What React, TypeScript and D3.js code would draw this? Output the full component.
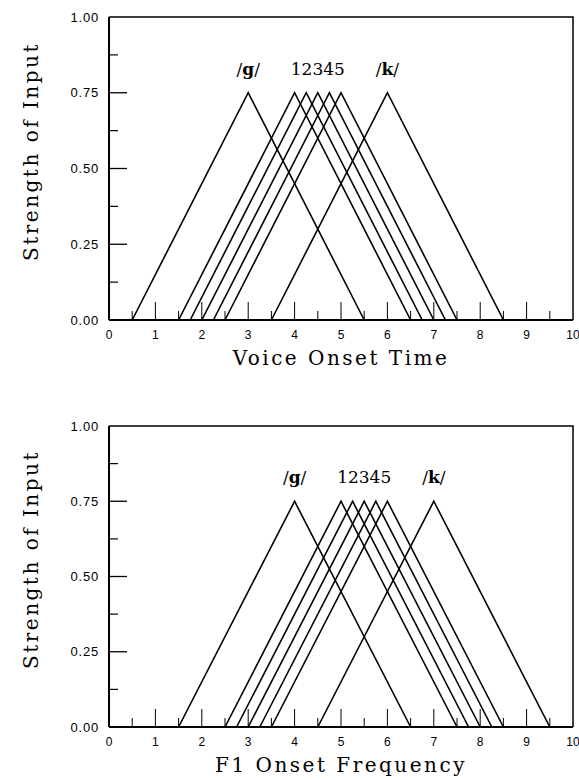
import React from 'react';
import * as d3 from 'd3';

// triangle order: /g/, stimuli 1..5, /k/
const triangleNames = ['/g/', '1', '2', '3', '4', '5', '/k/'];

const votStart = [0.5, 1.5, 1.75, 2.0, 2.25, 2.5, 3.5];
const votPeak = [3.0, 4.0, 4.25, 4.5, 4.75, 5.0, 6.0];
const votEnd = [5.5, 6.5, 6.75, 7.0, 7.25, 7.5, 8.5];

const f1Start = [1.5, 2.5, 2.75, 3.0, 3.25, 3.5, 4.5];
const f1Peak = [4.0, 5.0, 5.25, 5.5, 5.75, 6.0, 7.0];
const f1End = [6.5, 7.5, 7.75, 8.0, 8.25, 8.5, 9.5];

const peakStrength = 0.75;

const labelTexts = ['/g/', '12345', '/k/'];
const votLabelAt = [3.0, 4.5, 6.0];
const f1LabelAt = [4.0, 5.5, 7.0];
const labelStrength = 0.81;

const yTickLabels = ['0.00', '0.25', '0.50', '0.75', '1.00'];
const yTicks = [0, 0.25, 0.5, 0.75, 1];
const xTicks = d3.range(0, 11);

const serif = '"DejaVu Serif", serif';
const sans = '"Liberation Sans", Arial, sans-serif';

type PanelProps = {
  top: number;
  bottom: number;
  starts: number[];
  peaks: number[];
  ends: number[];
  labelAt: number[];
  xTitle: string;
};

const Panel = ({ top, bottom, starts, peaks, ends, labelAt, xTitle }: PanelProps) => {
  const left = 109;
  const right = 573;
  const x = d3.scaleLinear().domain([0, 10]).range([left, right]);
  const y = d3.scaleLinear().domain([0, 1]).range([bottom, top]);

  const line = d3.line<[number, number]>()
    .x(d => x(d[0]))
    .y(d => y(d[1]));

  const minorY = d3.range(0.125, 1, 0.25);
  const minorX = d3.range(0.5, 10, 1);

  return (
    <g>
      {/* frame */}
      <path d={`M${left},${top}H${right}V${bottom}`} fill="none" stroke="#000" strokeWidth={1.5} />
      <line x1={left} x2={left} y1={top} y2={bottom} stroke="#000" strokeWidth={2} />
      <line x1={left} x2={right} y1={bottom} y2={bottom} stroke="#000" strokeWidth={2.2} />

      {/* y ticks */}
      {yTicks.slice(1, 4).map(t => (
        <line key={'ym' + t} x1={left} x2={left + 18} y1={y(t)} y2={y(t)} stroke="#000" strokeWidth={1.3} />
      ))}
      {minorY.map(t => (
        <line key={'yn' + t} x1={left} x2={left + 9} y1={y(t)} y2={y(t)} stroke="#000" strokeWidth={1.2} />
      ))}
      {yTicks.map((t, i) => (
        <text key={'yl' + t} x={left - 10} y={y(t)} dy="0.35em" textAnchor="end"
          fontFamily={sans} fontSize={13} letterSpacing={0.8}>{yTickLabels[i]}</text>
      ))}

      {/* x ticks */}
      {xTicks.slice(1, 10).map(t => (
        <line key={'xm' + t} x1={x(t)} x2={x(t)} y1={bottom} y2={bottom - 18} stroke="#000" strokeWidth={1} />
      ))}
      {minorX.map(t => (
        <line key={'xn' + t} x1={x(t)} x2={x(t)} y1={bottom} y2={bottom - 9} stroke="#000" strokeWidth={1} />
      ))}
      {xTicks.map(t => (
        <text key={'xl' + t} x={x(t)} y={bottom + 19} textAnchor="middle"
          fontFamily={sans} fontSize={12}>{t}</text>
      ))}

      {/* triangles */}
      {triangleNames.map((n, i) => (
        <path key={n}
          d={line([[starts[i], 0], [peaks[i], peakStrength], [ends[i], 0]]) ?? ''}
          fill="none" stroke="#000" strokeWidth={1.6} strokeLinejoin="miter" />
      ))}

      {/* labels above peaks */}
      {labelTexts.map((s, i) => (
        <text key={s} x={x(labelAt[i])} y={y(labelStrength)} textAnchor="middle"
          fontFamily={serif} fontSize={17}>
          {s.startsWith('/') ? (
            <>
              /<tspan fontWeight="bold">{s.slice(1, -1)}</tspan>/
            </>
          ) : s}
        </text>
      ))}

      {/* axis titles */}
      <text x={(left + right) / 2} y={bottom + 45} textAnchor="middle"
        fontFamily={serif} fontSize={20} letterSpacing={2.5}>{xTitle}</text>
      <text transform={`translate(38,${(top + bottom) / 2 - 17}) rotate(-90)`} textAnchor="middle"
        fontFamily={serif} fontSize={20} letterSpacing={2.5}>Strength of Input</text>
    </g>
  );
};

export default function App() {
  return (
    <svg width={579} height={780}
      style={{ position: 'absolute', left: 0, top: 0, background: '#fff' }}>
      <rect width={579} height={780} fill="#fff" />
      <Panel top={17} bottom={320} starts={votStart} peaks={votPeak} ends={votEnd}
        labelAt={votLabelAt} xTitle="Voice Onset Time" />
      <Panel top={426} bottom={727} starts={f1Start} peaks={f1Peak} ends={f1End}
        labelAt={f1LabelAt} xTitle="F1 Onset Frequency" />
    </svg>
  );
}
